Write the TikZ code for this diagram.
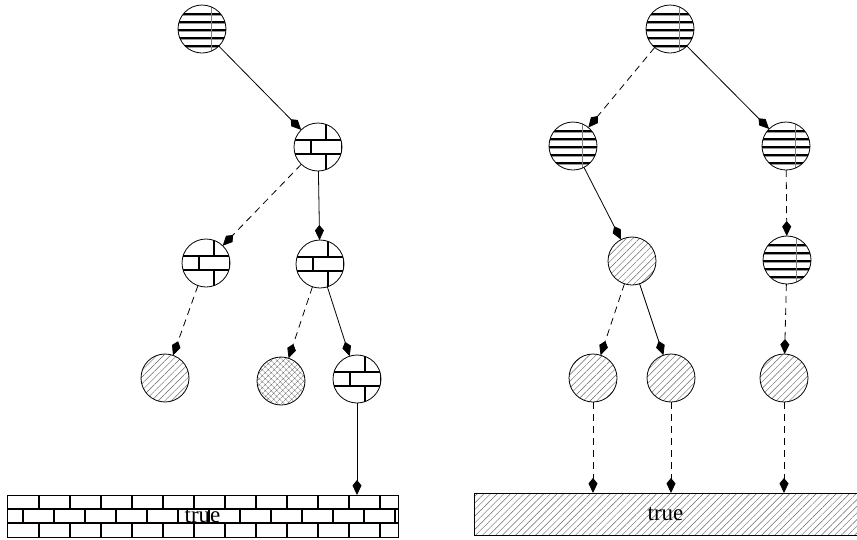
\documentclass[tikz,border=0pt]{standalone}
\usepackage{fontspec}
\setmainfont{Liberation Serif}
\usetikzlibrary{arrows.meta,patterns,patterns.meta}
\tikzset{
  base/.style={circle,draw,line width=0.8pt,minimum size=48pt,inner sep=0pt,outer sep=0pt},
  hlines/.style={base,path picture={
    \begin{scope}[shift={(path picture bounding box.center)}]
      \foreach \yy in {-15,-7,...,17}{
        \draw[line width=1.2pt,black] (-30,\yy) -- (30,\yy);
        \draw[line width=0.8pt,black!40] (-30,\yy+1.4) -- (30,\yy+1.4);
      }
      \draw[line width=0.4pt,black!50] (9,-30) -- (9,30);
    \end{scope}}},
  bricks/.style={base,path picture={
    \begin{scope}[shift={(path picture bounding box.center)},line width=1.1pt]
      \draw (-30,-7) -- (30,-7) (-30,7) -- (30,7);
      \draw (8,-30) -- (8,-7) (-23,-30) -- (-23,-7);
      \draw (-7,-7) -- (-7,7) (24,-7) -- (24,7);
      \draw (8,7) -- (8,30) (-23,7) -- (-23,30);
    \end{scope}}},
  hatch/.style={base,pattern={Lines[angle=45,distance=4.7pt,line width=0.45pt]},pattern color=black!60},
  cross/.style={base,pattern={Hatch[angle=45,distance=4pt,line width=0.45pt]},pattern color=black!60},
  arr/.style={-{Kite[length=15pt,width=9pt,inset=5.5pt]},line width=0.8pt},
  dsh/.style={arr,dash pattern=on 7pt off 5pt},
  bartext/.style={font=\fontsize{23}{25}\selectfont,inner sep=0pt}
}
\begin{document}
\begin{tikzpicture}[x=1pt,y=-1pt]
\useasboundingbox (0,0) rectangle (857,539);
% left tree
\node[hlines] (A) at (202,29) {};
\node[bricks] (B) at (318,147) {};
\node[bricks] (C) at (206,263) {};
\node[bricks] (D) at (320,264) {};
\node[hatch] (E) at (165,378) {};
\node[cross] (F) at (281,381) {};
\node[bricks] (G) at (357,379) {};
% left bar
\node[draw,line width=0.8pt,minimum width=391pt,minimum height=42pt,inner sep=0pt,outer sep=0pt] (lbar) at (202.5,516) {};
\begin{scope}[line width=1.1pt]
  \clip (lbar.north west) rectangle (lbar.south east);
  \draw (7,509) -- (398,509) (7,523) -- (398,523);
  \foreach \k in {0,...,11}{
    \draw (39+31*\k,495) -- (39+31*\k,509);
    \draw (39+31*\k,523) -- (39+31*\k,537);
  }
  \foreach \k in {0,...,12}{
    \draw (23+31*\k,509) -- (23+31*\k,523);
  }
\end{scope}
\node[bartext] (ltxt) at (lbar.center) {true};
% right tree
\node[hlines] (H) at (670,29) {};
\node[hlines] (I) at (573,146) {};
\node[hlines] (J) at (786,146) {};
\node[hatch] (K) at (632,261) {};
\node[hlines] (L) at (787,260) {};
\node[hatch] (M) at (593,378) {};
\node[hatch] (N) at (671,378) {};
\node[hatch] (O) at (784,378) {};
% right bar
\node[minimum width=383pt,minimum height=42pt,inner sep=0pt,outer sep=0pt,bartext,
  pattern={Lines[angle=45,distance=4.7pt,line width=0.45pt]},pattern color=black!60] (rbar) at (665.5,514) {true};
\draw[line width=0.8pt] (rbar.north east) -- (rbar.north west) -- (rbar.south west) -- (rbar.south east);
% edges left
\draw[arr] (A) -- (B);
\draw[dsh] (B) -- (C);
\draw[arr] (B) -- (D);
\draw[dsh] (C) -- (E);
\draw[dsh] (D) -- (F);
\draw[arr] (D) -- (G);
\draw[arr] (G) -- (G |- lbar.north);
% edges right
\draw[dsh] (H) -- (I);
\draw[arr] (H) -- (J);
\draw[arr] (I) -- (K);
\draw[dsh] (J) -- (L);
\draw[dsh] (K) -- (M);
\draw[arr] (K) -- (N);
\draw[dsh] (L) -- (O);
\draw[dsh] (M) -- (M |- rbar.north);
\draw[dsh] (N) -- (N |- rbar.north);
\draw[dsh] (O) -- (O |- rbar.north);
\end{tikzpicture}
\end{document}
